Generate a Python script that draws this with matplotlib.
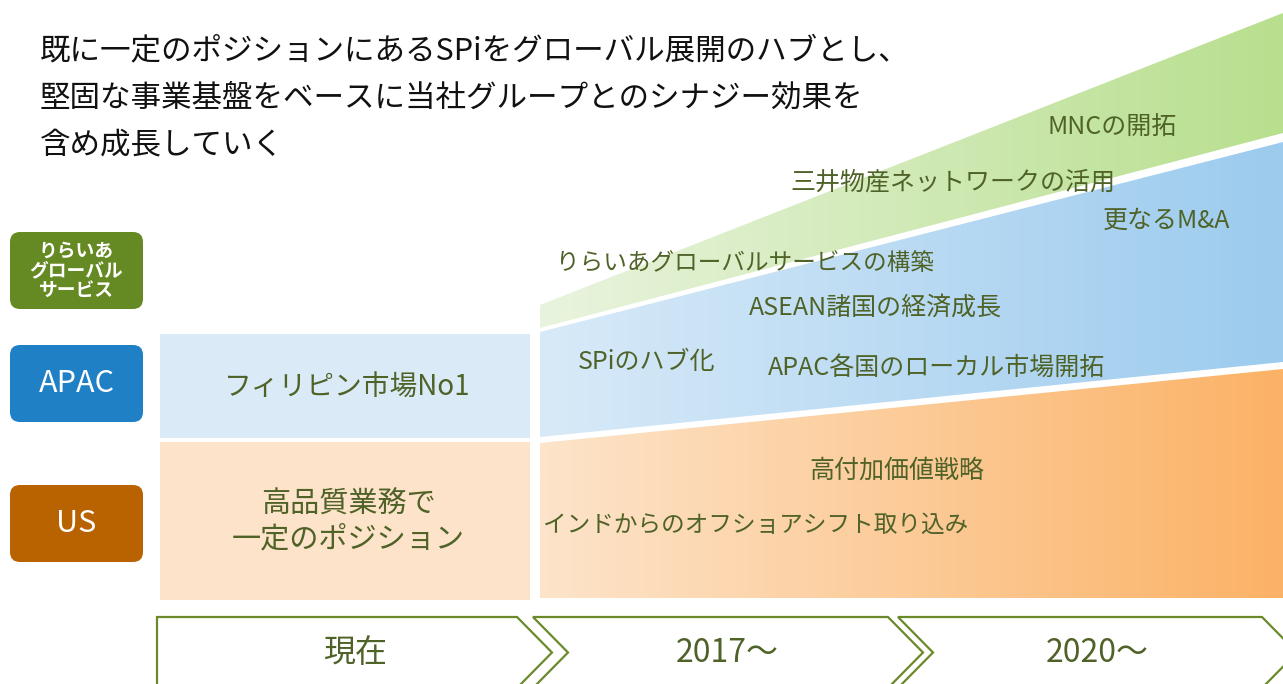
"""SPi 成長戦略ロードマップ図"""
import matplotlib.pyplot as plt
from matplotlib.patches import FancyBboxPatch, Polygon, Rectangle
from matplotlib.colors import LinearSegmentedColormap
import numpy as np

plt.rcParams['font.family'] = ['Noto Sans CJK JP', 'DejaVu Sans']

# ── データ ──────────────────────────────────────────────
title_lines = ['既に一定のポジションにあるSPiをグローバル展開のハブとし、',
               '堅固な事業基盤をベースに当社グループとのシナジー効果を',
               '含め成長していく']

seg_labels = ['りらいあ\nグローバル\nサービス', 'APAC', 'US']
seg_colors = ['#668a23', '#1f80c5', '#b96300']

phases = ['現在', '2017～', '2020～']

current_labels = ['フィリピン市場No1', '高品質業務で\n一定のポジション']

# 成長帯（左端→右端）の上下端
band_names = ['US', 'APAC', 'りらいあ']
band_top_l = [443, 332, 305]
band_top_r = [369, 142, 13]
band_bot_l = [598, 437, 328]
band_bot_r = [598, 362, 133]
band_c0 = ['#fde4ca', '#d8eaf8', '#e9f4de']
band_c1 = ['#fbb266', '#9ccbee', '#b8df8e']

future_texts = ['MNCの開拓', '三井物産ネットワークの活用', '更なるM&A',
                'りらいあグローバルサービスの構築', 'ASEAN諸国の経済成長',
                'SPiのハブ化', 'APAC各国のローカル市場開拓',
                '高付加価値戦略', 'インドからのオフショアシフト取り込み']
future_pos = [(1112, 128), (953, 183), (1167, 221), (745, 263), (875, 308),
              (647, 362), (937, 368), (897, 471), (756, 525)]

TXT = '#4f6228'

fig = plt.figure(figsize=(12.83, 6.84), dpi=100)
ax = fig.add_axes([0, 0, 1, 1])
ax.set_xlim(0, 1283)
ax.set_ylim(684, 0)
ax.axis('off')

# タイトル
for i, line in enumerate(title_lines):
    ax.text(40, 51 + i * 47, line, fontsize=22, color='#111111', va='center', ha='left')

# 左のセグメントラベル
seg_y = [232, 345, 485]
for (y, lab, c) in zip(seg_y, seg_labels, seg_colors):
    ax.add_patch(FancyBboxPatch((10, y), 133, 77, boxstyle='round,pad=0,rounding_size=10',
                                facecolor=c, edgecolor='none'))
    bold = '\n' in lab
    ax.text(76.5, y + 39, lab, fontsize=13.5 if bold else 22, color='white',
            fontweight='bold' if bold else 'normal', ha='center', va='center',
            linespacing=1.05)

# 現在ブロック
ax.add_patch(Rectangle((160, 334), 370, 104, facecolor='#daeaf7', edgecolor='none'))
ax.add_patch(Rectangle((160, 442), 370, 158, facecolor='#fde3c9', edgecolor='none'))
ax.text(347, 387, current_labels[0], fontsize=20, color=TXT, ha='center', va='center')
ax.text(348, 522, current_labels[1], fontsize=21, color=TXT, ha='center', va='center',
        linespacing=1.2)

# 成長帯（グラデーション）
x0, x1 = 540, 1283
for tl, tr, bl, br, c0, c1 in zip(band_top_l, band_top_r, band_bot_l, band_bot_r,
                                  band_c0, band_c1):
    poly = Polygon([(x0, tl), (x1, tr), (x1, br), (x0, bl)], closed=True,
                   facecolor='none', edgecolor='none')
    ax.add_patch(poly)
    cmap = LinearSegmentedColormap.from_list('g', [c0, c1])
    grad = np.linspace(0, 1, 256).reshape(1, -1)
    im = ax.imshow(grad, cmap=cmap, extent=(x0, x1, max(bl, br), min(tl, tr)),
                   aspect='auto', zorder=1)
    im.set_clip_path(poly)

for s, (x, y) in zip(future_texts, future_pos):
    fs = 17 if len(s) > 15 else 18
    ax.text(x, y, s, fontsize=fs, color=TXT, ha='center', va='center', zorder=3)

# タイムライン（シェブロン）
ty0, ty1 = 617, 688
tm = (ty0 + ty1) / 2
ch = [(157, 517, False), (533, 888, True), (898, 1262, True)]
for (xa, xb, notch), lab in zip(ch, phases):
    d = 35
    pts = [(xa, ty0), (xb, ty0), (xb + d, tm), (xb, ty1), (xa, ty1)]
    if notch:
        pts.append((xa + d, tm))
    ax.add_patch(Polygon(pts, closed=True, facecolor='white', edgecolor='#6a8a2a',
                         linewidth=1.6, zorder=4))
    ax.text((xa + xb) / 2 + (17 if notch else 18), 653, lab, fontsize=23, color=TXT,
            ha='center', va='center', zorder=5)

plt.savefig('out.png', dpi=100, facecolor='white')
